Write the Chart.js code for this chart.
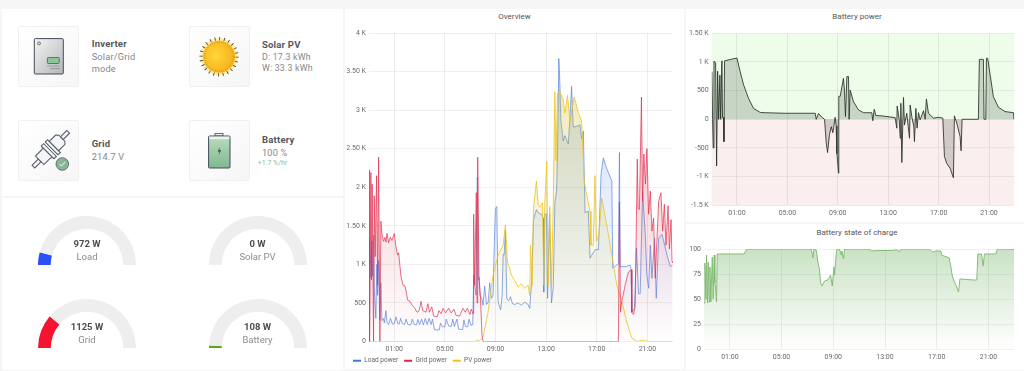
<!DOCTYPE html>
<html>
<head>
<meta charset="utf-8">
<script src="https://cdn.jsdelivr.net/npm/chart.js@4"></script>
<style>
html { background: #f6f6f6; }
html, body { margin: 0; padding: 0; width: 1024px; height: 371px; overflow: hidden; font-family: Roboto, sans-serif; }
body { background: #f6f6f6; filter: blur(.35px); }
.panel { position: absolute; background: #fff; }
canvas { position: absolute; }
.card { position: absolute; width: 59px; height: 59px; border: 1px solid #f0f0f0; border-radius: 2px; background: linear-gradient(135deg, #fff, #f6f6f6); }
.txt { position: absolute; white-space: nowrap; line-height: 1; }
.head { font-weight: 700; font-size: 9.5px; color: #55575c; letter-spacing: .2px; }
.sub { font-size: 9.2px; color: #85878c; letter-spacing: .2px; }
.ctitle { position: absolute; text-align: center; font-size: 8px; color: #555; line-height: 1; }
.gval { position: absolute; width: 80px; text-align: center; font-weight: 700; font-size: 9.5px; color: #4c4e53; line-height: 1; }
.gname { position: absolute; width: 80px; text-align: center; font-size: 9.5px; color: #8a8c90; line-height: 1; }
svg { position: absolute; left: 0; top: 0; }
</style>
</head>
<body>
<div class="panel" style="left:2px;top:9px;width:341px;height:187px"></div>
<div class="panel" style="left:2px;top:198px;width:341px;height:172px"></div>
<div class="panel" style="left:345px;top:9px;width:339px;height:360px"></div>
<div class="panel" style="left:686px;top:9px;width:338px;height:213px"></div>
<div class="panel" style="left:686px;top:224px;width:338px;height:146px"></div>

<div class="card" style="left:18px;top:26px"></div>
<div class="card" style="left:189px;top:26px"></div>
<div class="card" style="left:18px;top:120px"></div>
<div class="card" style="left:189px;top:120px"></div>

<svg width="345" height="190">
  <defs>
    <linearGradient id="steel" x1="0" y1="0" x2="1" y2="1"><stop offset="0" stop-color="#f4f4f4"/><stop offset="1" stop-color="#b4b6b8"/></linearGradient>
    <radialGradient id="sun" cx=".4" cy=".45" r=".7"><stop offset="0" stop-color="#fdd835"/><stop offset="1" stop-color="#f6a81c"/></radialGradient>
    <linearGradient id="cell" x1="0" y1="0" x2="0" y2="1"><stop offset="0" stop-color="#b9dcbf"/><stop offset="1" stop-color="#7fb890"/></linearGradient>
  </defs>
  <!-- inverter -->
  <rect x="34.3" y="38.6" width="29" height="35.4" rx="1" fill="url(#steel)" stroke="#444b5a" stroke-width="1"/>
  <circle cx="39" cy="43.4" r="1.5" fill="#ddd" stroke="#444b5a" stroke-width=".7"/>
  <rect x="47.3" y="57.5" width="12" height="6" rx="1" fill="#8cc49c" stroke="#444b5a" stroke-width=".7"/>
  <path d="M47.5 66h12M50.5 68.6h9" stroke="#6a6d74" stroke-width="1" stroke-dasharray="1 1"/>
  <!-- sun -->
  <circle cx="219" cy="56.7" r="18.5" fill="#ffe98a" opacity=".8"/>
  <circle cx="219" cy="56.7" r="18" fill="none" stroke="#3b3d44" stroke-width="3.4" stroke-dasharray=".8 3.9"/>
  <circle cx="219" cy="56.7" r="16" fill="url(#sun)"/>
  <circle cx="219" cy="56.7" r="14.6" fill="none" stroke="#6b5a20" stroke-width=".6" stroke-dasharray=".6 1.6"/>
  <!-- plug -->
  <g transform="rotate(-45 50 150) translate(50 150) scale(1.12 1.2) translate(-50 -150)" fill="#f4f5f6" stroke="#555a66" stroke-width=".9">
    <rect x="29" y="148.4" width="8" height="3.2" />
    <path d="M37 145h8l2 -1v12l-2 -1h-8z"/>
    <rect x="47" y="142.5" width="3" height="15"/>
    <rect x="52" y="142.5" width="3" height="15"/>
    <path d="M55 144.5l2 0h6l2 2v7l-2 2h-8z"/>
    <rect x="65" y="148.4" width="8" height="3.2"/>
  </g>
  <circle cx="62.3" cy="164" r="6.3" fill="#86b898" stroke="#556" stroke-width=".8"/>
  <path d="M59.5 164l2 2 3.6-4" fill="none" stroke="#f4f8f4" stroke-width="1"/>
  <!-- battery -->
  <rect x="215" y="133.4" width="8" height="2.6" fill="#f0f0f0" stroke="#444b5a" stroke-width=".8"/>
  <rect x="208.6" y="136" width="21.4" height="32" rx="1" fill="url(#cell)" stroke="#444b5a" stroke-width="1"/>
  <rect x="209.2" y="136.6" width="20.2" height="2.6" fill="#f1f1f1"/>
  <path d="M220 147l-2.4 4.6h2l-1 3.6 2.6 -5h-2z" fill="#39404a"/>
</svg>

<div class="txt head" style="left:91.7px;top:39px">Inverter</div>
<div class="txt sub" style="left:91.7px;top:52px">Solar/Grid</div>
<div class="txt sub" style="left:91.7px;top:64px">mode</div>
<div class="txt head" style="left:262px;top:40px">Solar PV</div>
<div class="txt sub" style="left:262px;top:53px;font-size:8.8px">D: 17.3 kWh</div>
<div class="txt sub" style="left:262px;top:64px;font-size:8.8px">W: 33.3 kWh</div>
<div class="txt head" style="left:91.7px;top:139px">Grid</div>
<div class="txt sub" style="left:91.7px;top:152px">214.7 V</div>
<div class="txt head" style="left:262px;top:135px">Battery</div>
<div class="txt sub" style="left:262px;top:148px">100 %</div>
<div class="txt" style="left:257.7px;top:160px;font-size:7px;color:#93bd93">+1.7 %/hr</div>

<canvas id="gauge0" width="98" height="49" style="left:38.2px;top:215.7px"></canvas>
<canvas id="gauge1" width="98" height="49" style="left:208.5px;top:215.7px"></canvas>
<canvas id="gauge2" width="98" height="49" style="left:38.2px;top:298.7px"></canvas>
<canvas id="gauge3" width="98" height="49" style="left:208.5px;top:298.7px"></canvas>

<div class="gval" style="left:47px;top:239px">972 W</div>
<div class="gname" style="left:47px;top:252px">Load</div>
<div class="gval" style="left:217.5px;top:239px">0 W</div>
<div class="gname" style="left:217.5px;top:252px">Solar PV</div>
<div class="gval" style="left:47px;top:322px">1125 W</div>
<div class="gname" style="left:47px;top:335px">Grid</div>
<div class="gval" style="left:217.5px;top:322px">108 W</div>
<div class="gname" style="left:217.5px;top:335px">Battery</div>

<div class="ctitle" style="left:345px;top:13px;width:339px">Overview</div>
<div class="ctitle" style="left:686px;top:13px;width:342px">Battery power</div>
<div class="ctitle" style="left:686px;top:229px;width:342px">Battery state of charge</div>

<canvas id="overview" width="339" height="364" style="left:345px;top:10px"></canvas>
<canvas id="battery" width="338" height="212" style="left:686px;top:10px"></canvas>
<canvas id="soc" width="338" height="146" style="left:686px;top:224px"></canvas>

<script>
var hourTicks = [1, 5, 9, 13, 17, 21];
var hourLabels = ['01:00', '05:00', '09:00', '13:00', '17:00', '21:00'];

var overviewTicks = [0, 500, 1000, 1500, 2000, 2500, 3000, 3500, 4000];
var overviewLabels = ['0', '500', '1 K', '1.50 K', '2 K', '2.50 K', '3 K', '3.50 K', '4 K'];
var batteryTicks = [-1500, -1000, -500, 0, 500, 1000, 1500];
var batteryLabels = ['-1.5 K', '-1 K', '-500', '0', '500', '1 K', '1.50 K'];
var socTicks = [0, 25, 50, 75, 100];

var loadHours = [-1, -0.94, -0.85, -0.77, -0.72, -0.64, -0.59, -0.46, -0.38, -0.32, -0.24, -0.14, -0.06, 0.02, 0.15,
    0.21, 0.34, 0.42, 0.55, 0.7, 0.85, 1, 1.13, 1.27, 1.38, 1.5, 1.62, 1.8, 1.93, 2.07, 2.3, 2.42, 2.58, 2.76, 2.85, 3, 3.15, 3.3, 3.45, 3.6, 3.75, 3.9, 4.02, 4.17, 4.55, 4.65, 4.8, 5, 5.1, 5.3, 5.5, 5.62, 5.75, 5.95, 6.08, 6.4, 6.5, 6.62, 6.8, 6.9, 7.05, 7.2,
    7.27, 7.35, 7.46, 7.56, 7.64, 7.69, 7.77, 7.93, 8.01, 8.14, 8.28, 8.41, 8.54, 8.67, 8.8, 8.91, 8.99, 9.1, 9.2, 9.41, 9.52, 9.6, 9.68, 9.78, 9.89, 10.05, 10.18, 10.34, 10.52,
    10.78, 11.04, 11.31, 11.57, 11.7, 11.84, 12, 12.23, 12.37, 12.63, 12.78, 12.81, 12.89, 13.03, 13.11, 13.26, 13.42, 13.56, 13.69, 13.82, 13.9, 14, 14.08, 14.16, 14.35, 14.48, 14.75, 14.88, 15.01, 15.14, 15.41, 15.67, 15.8, 15.94, 16.07, 16.33, 16.47, 16.86, 17.13, 17.34, 17.52, 17.79, 18.19, 18.26, 18.71, 18.79, 18.85, 19.24, 19.64, 19.72, 19.77, 19.98, 20.14, 20.3, 20.43, 20.62, 20.83, 20.96, 21.1, 21.23, 21.36, 21.57, 21.7, 21.89, 22.15, 22.29, 22.55, 22.81, 23];
var loadPower = [1000, 1350, 830, 1300, 850, 1380, 700, 300, 1000, 600, 1050, 280, 760, 270, 300,
    240, 400, 250, 220, 300, 225, 230, 320, 235, 225, 300, 235, 220, 290, 220, 215, 290, 220, 215, 285, 220, 290, 215, 300, 220, 300, 220, 290, 150, 150, 240, 190, 190, 290, 200, 195, 290, 195, 290, 160, 155, 280, 195, 190, 290, 210, 220,
    860, 730, 600, 2130, 800, 830, 600, 550, 470, 720, 480, 500, 760, 560, 600, 1300, 1725, 1750, 510, 410, 600, 1130, 1120, 1450, 550, 530, 580, 490, 480,
    500, 470, 510, 480, 430, 750, 1580, 1710, 1670, 1650, 1600, 640, 1650, 1650, 560, 1650, 500, 700, 1800, 1950, 2470, 3670, 3370, 2870, 2600, 2670, 2560, 2900, 3310, 2780, 2790, 2810, 2630, 2730, 1670, 1690, 1080, 1190, 1190, 2170, 2380, 2240, 2080, 950, 1010, 2450, 970, 970, 990, 930, 380, 430, 1210, 620, 620, 1950, 1385, 860, 690, 1250, 820, 1340, 560, 1340, 1390, 1300, 1120, 970, 990];

var gridHours = [-1, -0.98, -0.93, -0.85, -0.8, -0.75, -0.64, -0.59, -0.51, -0.4, -0.32, -0.24, -0.14, -0.06, 0.02, 0.15, 0.26, 0.34, 0.42, 0.55, 0.68, 0.81, 1, 1.13, 1.26, 1.34, 1.53, 1.69, 1.85, 2.06, 2.24, 2.4, 2.59, 2.8, 2.96, 3.11, 3.25, 3.51, 3.65, 3.78, 3.96, 4.12, 4.39, 4.52, 4.7, 4.86, 5.05, 5.29, 5.5, 5.71, 5.87, 6.16, 6.42, 6.61, 6.77, 6.98, 7.08, 7.22, 7.27, 7.35, 7.48, 7.54, 7.59, 7.69, 7.8, 7.93, 8.01,
    18.71, 18.79, 18.87, 18.98, 19.24, 19.5, 19.72, 19.77, 19.9, 20.03, 20.2, 20.27, 20.37, 20.53, 20.62, 20.72, 20.85, 20.96, 21.1, 21.23, 21.36, 21.49, 21.62, 21.89, 22.07, 22.21, 22.34, 22.47, 22.63, 22.74, 22.87, 22.95, 23];
var gridPower = [0, 2220, 0, 2190, 800, 2040, 0, 1890, 1100, 2150, 730, 2390, 0, 1560, 1400, 1300, 1350, 1290, 1400, 1280, 1350, 1310, 1400, 1230, 1120, 1150, 840, 730, 720, 535, 520, 470, 440, 380, 400, 520, 400, 380, 490, 380, 450, 330, 320, 400, 360, 430, 370, 430, 370, 420, 340, 330, 430, 380, 430, 350, 420, 360, 1650, 730, 1930, 500, 2390, 860, 600, 80, 0,
    0, 1810, 380, 520, 730, 900, 930, 380, 350, 450, 2365, 1730, 1710, 3170, 1820, 2430, 2040, 2500, 1650, 1950, 1430, 1600, 820, 1820, 1930, 1430, 1780, 1250, 1760, 1200, 1580, 1040, 1020];

var pvHours = [-1, 7.4, 7.55, 7.65, 8.01, 8.41, 8.8, 9.2, 9.6, 9.78, 9.94, 10.26, 10.52, 10.78, 11.04, 11.31, 11.57, 11.7, 11.76, 11.89, 12, 12.23, 12.37, 12.5, 12.71, 12.81, 12.89, 13.05, 13.16, 13.29, 13.42, 13.56, 13.69, 13.77, 13.9, 14.08, 14.35, 14.48, 14.69, 14.88, 15.22, 15.54, 15.8, 16.01, 16.2, 16.47, 16.54, 16.72, 16.86, 16.97, 17.18, 17.39, 17.79, 18.19, 18.58, 19, 19.37, 19.77, 20.17, 20.56, 21.1, 23];
var pvPower = [0, 0, 25, 0, 55, 380, 860, 1120, 1250, 1510, 1040, 860, 790, 710, 750, 690, 730, 600, 1250, 730, 1730, 2080, 1780, 1740, 1800, 730, 1780, 2340, 730, 1750, 690, 1780, 3240, 2340, 3215, 3240, 3130, 2960, 3190, 2860, 3170, 2970, 2860, 2080, 1900, 1690, 1250, 1250, 2150, 1300, 1390, 1860, 1510, 1120, 730, 510, 250, 45, 0, 15, 0, 0];

var batteryHours = [-0.98, -0.93, -0.88, -0.82, -0.69, -0.61, -0.53, -0.45, -0.35, -0.29, -0.19, -0.14, -0.06, -0.03, 0.02, 1, 1.26, 1.53, 1.92, 2.32, 2.85, 3.25, 4.83, 7.21, 7.29, 7.47, 7.74, 7.95, 8.08, 8.19, 8.34, 8.48, 8.61, 8.79, 8.87, 8.93, 9.06, 9.08, 9.19, 9.45, 9.53, 9.61, 9.72, 9.85, 9.9, 9.98, 10.25, 10.64, 11.04, 11.7, 11.78, 11.89, 12.02, 12.49, 13.55, 13.68, 13.71, 13.87, 13.95, 14, 14.08, 14.21, 14.29, 14.47, 14.69, 14.74, 14.87, 15.03, 15.08, 15.19, 15.29, 15.4, 15.53, 15.8, 15.93, 16.03, 16.19, 16.59, 16.98, 17.33, 17.46, 17.64, 17.91, 18.17, 18.25, 18.44, 18.7, 18.78, 18.86, 20.15, 20.23, 20.55, 20.6, 20.74, 20.79, 20.89, 21.34, 21.74, 22.27, 22.93, 22.98];
var batteryPower = [830, 0, -500, 1015, 985, -815, 840, 0, 770, 0, 1020, 30, 30, -390, 1020, 1070, 830, 600, 365, 190, 120, 115, 105, 105, 0, 100, 35, 0, -400, -580, -270, -130, -235, 35, -115, -600, -940, 400, 400, 715, 510, 50, 745, 745, 0, 510, 305, 165, 115, 115, -25, 175, 65, 60, 30, -155, 230, 0, -330, 280, -755, 380, -100, 105, -330, 250, 50, -130, -390, 190, -155, 115, -10, 150, 0, 355, 105, 20, 35, 20, -650, -770, -855, -1020, 60, -70, -300, -550, 0, 0, 1045, 1045, 0, 0, 1065, 1065, 395, 210, 135, 115, 0];

var socHours = [-1, -0.93, -0.85, -0.8, -0.72, -0.67, -0.59, -0.54, -0.47, -0.36, -0.29, -0.21, -0.16, -0.11, -0.03, 0.02, 2.1, 2.29, 7.3, 7.43, 7.5, 7.68, 7.81, 7.94, 8.02, 8.12, 8.33, 8.58, 8.79, 8.92, 9.05, 9.1, 9.25, 9.48, 9.61, 9.66, 9.79, 9.87, 11.8, 11.93, 12.44, 13.6, 13.67, 13.98, 14.11, 14.24, 16.42, 16.68, 16.94, 17.32, 17.38, 17.58, 17.97, 18.1, 18.22, 18.48, 18.69, 18.79, 19.89, 20.1, 20.18, 20.46, 20.59, 20.69, 21.57, 21.69, 22.85, 23];
var socLevel = [46, 86, 50, 94, 46, 87, 47, 82, 47, 92, 50, 94, 66, 62, 47, 95, 95, 100, 100, 91, 100, 99, 87, 79, 66, 63, 68, 69, 74, 63, 82, 74, 99, 100, 94, 98, 90, 100, 100, 98, 98.5, 98.5, 99, 99, 97, 100, 100, 97, 98, 98, 94, 93, 91, 82, 72, 64, 57, 70, 69, 69, 95, 95, 83, 95, 95, 100, 100, 99];

var gaugeValues = [972, 0, 1125, 108];
var gaugeMax = [11500, 5000, 5000, 6400];
var gaugeColors = ['#2b50f5', '#f2cc0c', '#f5132f', '#5aaa14'];

Chart.defaults.font.family = 'Roboto, sans-serif';
Chart.defaults.font.size = 7;
Chart.defaults.color = '#6a6a6a';
Chart.defaults.animation = false;
Chart.defaults.responsive = false;

function points(hours, values) {
    return hours.map(function (h, i) { return { x: h, y: values[i] }; });
}

function fade(r, g, b, topAlpha) {
    return function (ctx) {
        var area = ctx.chart.chartArea;
        if (!area) return 'transparent';
        var grad = ctx.chart.ctx.createLinearGradient(0, area.top, 0, area.bottom);
        grad.addColorStop(0, 'rgba(' + r + ',' + g + ',' + b + ',' + topAlpha + ')');
        grad.addColorStop(1, 'rgba(' + r + ',' + g + ',' + b + ',0)');
        return grad;
    };
}

function setTicks(values) {
    return function (scale) {
        scale.ticks = values.map(function (v) { return { value: v }; });
    };
}

function timeAxis(height) {
    return {
        type: 'linear',
        min: -1,
        max: 23,
        afterBuildTicks: setTicks(hourTicks),
        afterFit: function (scale) { scale.height = height; },
        border: { display: false },
        grid: { color: 'rgba(0,0,0,0.07)', drawTicks: false },
        ticks: {
            padding: 4,
            maxRotation: 0,
            autoSkip: false,
            callback: function (v) { return hourLabels[hourTicks.indexOf(v)]; }
        }
    };
}

function valueAxis(width, min, max, values, labels) {
    return {
        min: min,
        max: max,
        afterBuildTicks: setTicks(values),
        afterFit: function (scale) { scale.width = width; },
        border: { display: false },
        grid: { color: 'rgba(0,0,0,0.06)', drawTicks: false },
        ticks: {
            padding: 3,
            autoSkip: false,
            callback: function (v) { return labels[values.indexOf(v)]; }
        }
    };
}

// overview
new Chart(document.getElementById('overview'), {
    type: 'line',
    data: {
        datasets: [
            { label: 'Load power', data: points(loadHours, loadPower), borderColor: 'rgba(87,132,222,0.7)', backgroundColor: fade(87, 148, 242, 0.34), order: 3 },
            { label: 'Grid power', data: points(gridHours, gridPower), borderColor: 'rgba(224,47,78,0.7)', backgroundColor: fade(224, 47, 68, 0.38), order: 1 },
            { label: 'PV power', data: points(pvHours, pvPower), borderColor: 'rgba(236,196,30,0.8)', backgroundColor: fade(215, 190, 40, 0.38), order: 2 }
        ]
    },
    options: {
        layout: { padding: { left: 2, right: 11.3, top: 23 } },
        elements: { point: { radius: 0 }, line: { borderWidth: 1, tension: 0, fill: 'origin' } },
        scales: {
            x: timeAxis(10),
            y: valueAxis(22, 0, 4000, overviewTicks, overviewLabels)
        },
        plugins: {
            tooltip: { enabled: false },
            legend: {
                position: 'bottom',
                align: 'start',
                labels: {
                    boxWidth: 8,
                    boxHeight: 2,
                    padding: 6,
                    color: '#666',
                    font: { size: 6.5 },
                    sort: function (a, b) { return a.datasetIndex - b.datasetIndex; },
                    generateLabels: function (chart) {
                        var items = Chart.defaults.plugins.legend.labels.generateLabels(chart);
                        var solid = ['#3f78dc', '#e0204a', '#f2c80c'];
                        items.forEach(function (it) {
                            it.fillStyle = solid[it.datasetIndex];
                            it.strokeStyle = solid[it.datasetIndex];
                            it.lineWidth = 0;
                        });
                        return items;
                    }
                }
            }
        }
    }
});

// battery power, green above zero and red below
var zones = {
    id: 'zones',
    beforeDraw: function (chart) {
        var a = chart.chartArea, zero = chart.scales.y.getPixelForValue(0), c = chart.ctx;
        c.save();
        c.fillStyle = '#eefcea';
        c.fillRect(a.left, a.top, a.right - a.left, zero - a.top);
        c.fillStyle = '#faeeee';
        c.fillRect(a.left, zero, a.right - a.left, a.bottom - zero);
        c.restore();
    }
};

new Chart(document.getElementById('battery'), {
    type: 'line',
    plugins: [zones],
    data: {
        datasets: [{
            label: 'Battery power',
            data: points(batteryHours, batteryPower),
            borderColor: 'rgba(40,48,40,0.85)',
            backgroundColor: 'rgba(45,60,45,0.2)'
        }]
    },
    options: {
        layout: { padding: { right: 9.7, top: 23.3 } },
        elements: { point: { radius: 0 }, line: { borderWidth: 1, tension: 0, fill: 'origin' } },
        scales: {
            x: timeAxis(16.7),
            y: valueAxis(25.7, -1500, 1500, batteryTicks, batteryLabels)
        },
        plugins: { tooltip: { enabled: false }, legend: { display: false } }
    }
});

// state of charge
new Chart(document.getElementById('soc'), {
    type: 'line',
    data: {
        datasets: [{
            label: 'Battery state of charge',
            data: points(socHours, socLevel),
            borderColor: 'rgba(130,185,115,0.95)',
            backgroundColor: fade(115, 180, 100, 0.38)
        }]
    },
    options: {
        layout: { padding: { right: 9.7, top: 25 } },
        elements: { point: { radius: 0 }, line: { borderWidth: 1, tension: 0, fill: 'origin' } },
        scales: {
            x: timeAxis(21),
            y: valueAxis(18, 0, 100, socTicks, socTicks.map(String))
        },
        plugins: { tooltip: { enabled: false }, legend: { display: false } }
    }
});

// half doughnut gauges
gaugeValues.forEach(function (v, i) {
    new Chart(document.getElementById('gauge' + i), {
        type: 'doughnut',
        data: {
            datasets: [{
                data: [v, gaugeMax[i] - v],
                backgroundColor: [gaugeColors[i], '#eeeeee'],
                borderWidth: 0
            }]
        },
        options: {
            rotation: -90,
            circumference: 180,
            cutout: '74%',
            plugins: { tooltip: { enabled: false }, legend: { display: false } }
        }
    });
});
</script>
</body>
</html>
